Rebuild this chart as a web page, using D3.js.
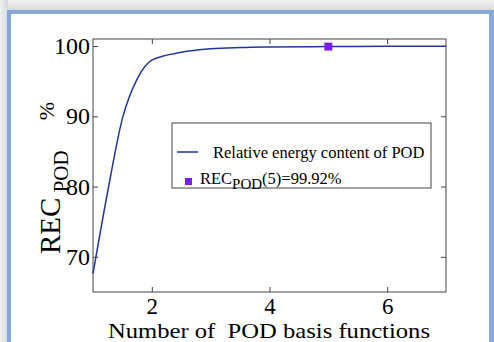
<!DOCTYPE html>
<html>
<head>
<meta charset="utf-8">
<script src="https://cdn.jsdelivr.net/npm/d3@7"></script>
<style>
  body { margin: 0; background: #fff; }
  svg { display: block; font-family: "Liberation Serif", "Times New Roman", serif; }
</style>
</head>
<body>
<div id="chart"></div>
<script>
// number of POD basis functions and relative energy content (%)
var modes = [1, 1.25, 1.5, 1.75, 2, 2.5, 3, 3.5, 4, 5, 6, 7];
var rec = [67.6, 79.3, 89.7, 95.3, 98.0, 99.1, 99.6, 99.78, 99.86, 99.92, 99.96, 99.98];
var markX = [5];
var markY = [99.92];
var xTicks = [2, 4, 6];
var yTicks = [70, 80, 90, 100];

var W = 494, H = 342;
var margin = {top: 39, right: 48, bottom: 50, left: 93};

var svg = d3.select("#chart").append("svg")
  .attr("width", W)
  .attr("height", H);

// picture frame: gray shadow, blue border, white page
var defs = svg.append("defs");
var g1 = defs.append("linearGradient").attr("id", "shadowTop")
  .attr("x1", 0).attr("y1", 0).attr("x2", 0).attr("y2", 1);
g1.append("stop").attr("offset", "0%").attr("stop-color", "#f2f2f2");
g1.append("stop").attr("offset", "100%").attr("stop-color", "#d9d9d9");
var g2 = defs.append("linearGradient").attr("id", "shadowLeft")
  .attr("x1", 0).attr("y1", 0).attr("x2", 1).attr("y2", 0);
g2.append("stop").attr("offset", "0%").attr("stop-color", "#f0f0f0");
g2.append("stop").attr("offset", "100%").attr("stop-color", "#d4d8de");

svg.append("rect").attr("x", 0).attr("y", 0).attr("width", W).attr("height", 11)
  .attr("fill", "url(#shadowTop)");
svg.append("rect").attr("x", 0).attr("y", 0).attr("width", 8).attr("height", H)
  .attr("fill", "url(#shadowLeft)");
svg.append("rect").attr("x", 7).attr("y", 10).attr("width", W - 7).attr("height", H - 10)
  .attr("fill", "#86a9d8");
svg.append("rect").attr("x", 11).attr("y", 14).attr("width", 478).attr("height", H - 14)
  .attr("fill", "#fff");

var w = W - margin.left - margin.right;
var h = H - margin.top - margin.bottom;

var x = d3.scaleLinear().domain([1, 7]).range([0, w]);
var y = d3.scaleLinear().domain([65, 101]).range([h, 0]);

var g = svg.append("g").attr("transform", "translate(" + margin.left + "," + margin.top + ")");

// axes, ticks pointing inwards
var xAxis = g.append("g").attr("transform", "translate(0," + h + ")")
  .call(d3.axisBottom(x).tickValues(xTicks).tickSize(-5).tickPadding(6).tickFormat(d3.format("d")));
var xTop = g.append("g")
  .call(d3.axisTop(x).tickValues(xTicks).tickSize(-5).tickFormat(""));
var yAxis = g.append("g")
  .call(d3.axisLeft(y).tickValues(yTicks).tickSize(-5).tickPadding(3).tickFormat(d3.format("d")));
var yRight = g.append("g").attr("transform", "translate(" + w + ",0)")
  .call(d3.axisRight(y).tickValues(yTicks).tickSize(-5).tickFormat(""));

g.selectAll(".domain").remove();
g.selectAll(".tick line").attr("stroke", "#444");
g.selectAll(".tick text").attr("fill", "#000").style("font-size", "24px")
  .style("font-family", "Liberation Serif, serif");
xAxis.selectAll(".tick text").style("font-size", "23px");

g.append("rect")
  .attr("width", w).attr("height", h)
  .attr("fill", "none").attr("stroke", "#444").attr("stroke-width", 1);

// curve
var pts = modes.map(function(d, i) { return [d, rec[i]]; });
var line = d3.line()
  .x(function(d) { return x(d[0]); })
  .y(function(d) { return y(d[1]); })
  .curve(d3.curveMonotoneX);

g.append("path")
  .datum(pts)
  .attr("d", line)
  .attr("fill", "none")
  .attr("stroke", "#2236a3")
  .attr("stroke-width", 1.5);

g.selectAll(".mark")
  .data(markX)
  .enter().append("rect")
  .attr("class", "mark")
  .attr("x", function(d) { return x(d) - 4; })
  .attr("y", function(d, i) { return y(markY[i]) - 4; })
  .attr("width", 8).attr("height", 8)
  .attr("fill", "#7b1cf2");

// legend
var lg = svg.append("g").attr("transform", "translate(172,123)");
lg.append("rect").attr("width", 259).attr("height", 65)
  .attr("fill", "#fff").attr("stroke", "#444");
lg.append("line").attr("x1", 5).attr("x2", 26).attr("y1", 29).attr("y2", 29)
  .attr("stroke", "#2236a3").attr("stroke-width", 1.5);
lg.append("text").attr("x", 41).attr("y", 35).style("font-size", "16.5px")
  .text("Relative energy content of POD");
lg.append("rect").attr("x", 13).attr("y", 55).attr("width", 7).attr("height", 7)
  .attr("fill", "#7b1cf2");
var t2 = lg.append("text").attr("x", 28).attr("y", 61).style("font-size", "16.5px");
t2.append("tspan").text("REC");
t2.append("tspan").attr("dy", 5).style("font-size", "15px").text("POD");
t2.append("tspan").attr("dy", -5).text("(5)=" + markY[0].toFixed(2) + "%");

// axis labels
svg.append("text")
  .attr("x", 108).attr("y", 338)
  .attr("textLength", 322)
  .attr("lengthAdjust", "spacingAndGlyphs")
  .style("font-size", "22px")
  .style("white-space", "pre")
  .text("Number of  POD basis functions");

var yl = svg.append("text")
  .attr("transform", "translate(60,254) rotate(-90)")
  .style("font-size", "29px")
  .style("white-space", "pre");
yl.append("tspan").text("REC");
yl.append("tspan").attr("dy", 8).style("font-size", "21px").text(" POD");
yl.append("tspan").attr("dy", -14).attr("dx", 30).style("font-size", "22px").text("%");
</script>
</body>
</html>
